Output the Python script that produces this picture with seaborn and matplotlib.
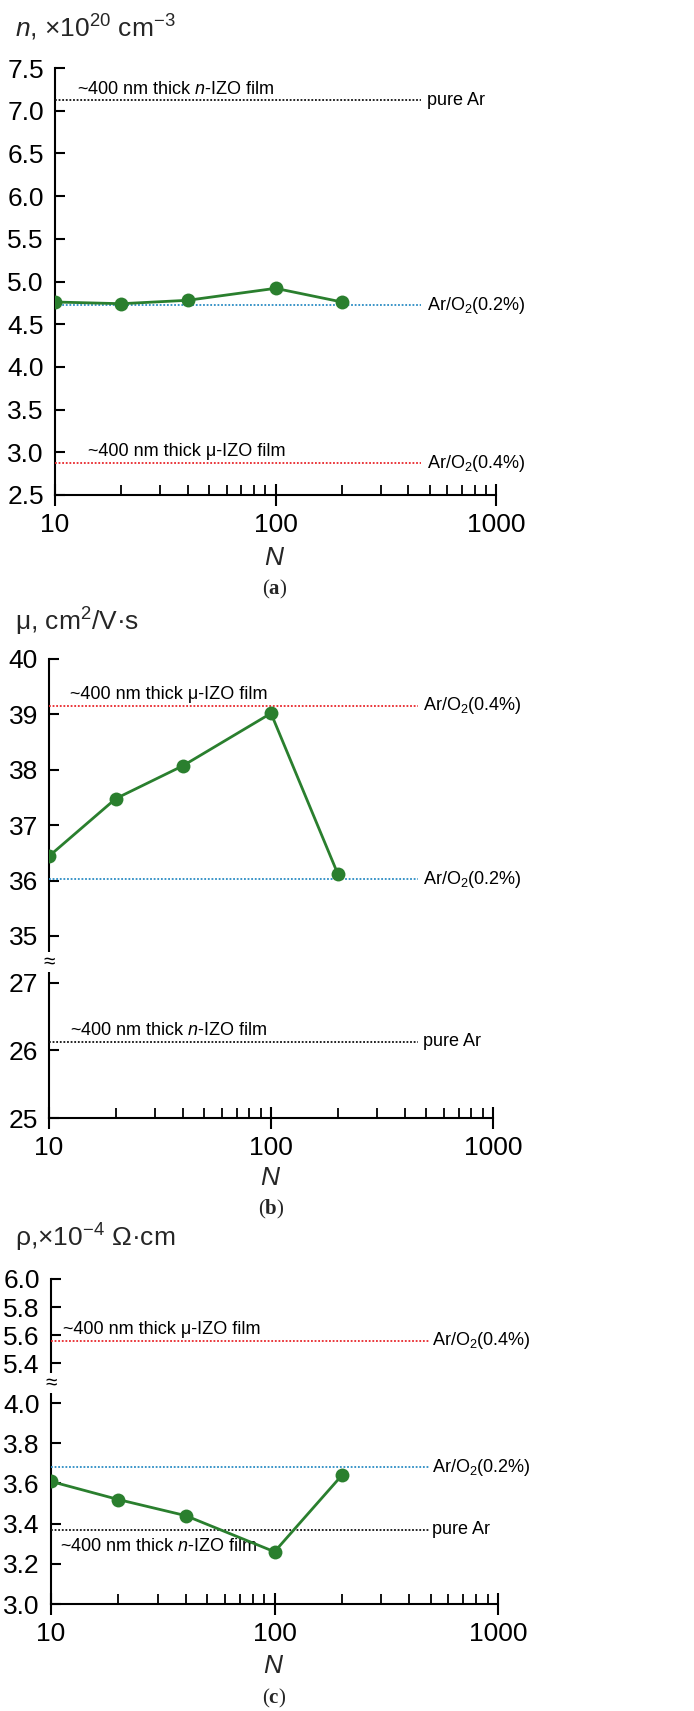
import matplotlib
matplotlib.use("Agg")
import matplotlib.pyplot as plt
from matplotlib import font_manager
import matplotlib.transforms as mtransforms
from matplotlib.ticker import FixedLocator, FormatStrFormatter, LogLocator, NullFormatter
import pandas as pd
import seaborn as sns

# data
layers = [10, 20, 40, 100, 200]
n_conc = [4.76, 4.74, 4.78, 4.92, 4.76]          # x1e20 cm^-3
mobility = [36.44, 37.48, 38.07, 39.02, 36.12]   # cm2/V.s
resistivity = [3.61, 3.52, 3.44, 3.26, 3.64]     # x1e-4 Ohm.cm

# ~400 nm thick reference films
ref_labels = ["pure Ar", "Ar/O$_2$(0.2%)", "Ar/O$_2$(0.4%)"]
ref_colors = ["#111111", "#2b8cc4", "#e8262b"]
n_ref = [7.12, 4.72, 2.87]
mu_ref = [26.13, 36.02, 39.16]
rho_ref = [3.37, 3.68, 5.56]

sns.set_theme(style="ticks")


def have_font(name):
    try:
        font_manager.findfont(name, fallback_to_default=False)
        return True
    except Exception:
        return False


FAM = "Liberation Sans Narrow" if have_font("Liberation Sans Narrow") else "Liberation Sans"
plt.rcParams["font.family"] = [FAM, "DejaVu Sans"]
plt.rcParams["mathtext.fontset"] = "custom"
plt.rcParams["mathtext.rm"] = FAM
plt.rcParams["mathtext.it"] = FAM + ":italic"
plt.rcParams["mathtext.bf"] = "Liberation Serif:bold"
plt.rcParams["mathtext.default"] = "regular"

W, H = 694, 1711
GREEN = "#2a7f2e"
TICK_FS = 19
NOTE_FS = 13

fig = plt.figure(figsize=(W / 100, H / 100), dpi=100)


def rect(left, top, right, bottom):
    return [left / W, 1 - bottom / H, (right - left) / W, (bottom - top) / H]


def style_axis(ax, ylim, yticks, fmt, bottom):
    ax.set_xscale("log")
    ax.set_xlim(10, 1000)
    ax.set_ylim(*ylim)
    ax.set_facecolor("none")
    for s in ["top", "right"]:
        ax.spines[s].set_visible(False)
    ax.spines["left"].set_linewidth(1.5)
    ax.spines["left"].set_color("black")
    ax.yaxis.set_major_locator(FixedLocator(yticks))
    ax.yaxis.set_major_formatter(FormatStrFormatter(fmt))
    ax.tick_params(axis="y", direction="in", length=7, width=1.5, pad=8,
                   labelsize=TICK_FS, colors="black")
    ax.set_xlabel("")
    ax.set_ylabel("")
    if bottom:
        ax.spines["bottom"].set_linewidth(1.5)
        ax.spines["bottom"].set_color("black")
        ax.xaxis.set_major_locator(LogLocator(base=10, numticks=5))
        ax.xaxis.set_minor_locator(LogLocator(base=10, subs=range(2, 10), numticks=20))
        ax.xaxis.set_minor_formatter(NullFormatter())
        ax.xaxis.set_major_formatter(FormatStrFormatter("%d"))
        ax.tick_params(axis="x", which="major", direction="inout", length=16,
                       width=1.5, pad=5, labelsize=TICK_FS, colors="black")
        ax.tick_params(axis="x", which="minor", direction="in", length=7,
                       width=1.3, colors="black")
    else:
        ax.spines["bottom"].set_visible(False)
        ax.tick_params(axis="x", which="both", bottom=False, labelbottom=False)


def draw_panel(axes, values, refs, line_end, label_x, notes):
    df = pd.DataFrame({"N": layers, "v": values})
    for ax in axes:
        sns.lineplot(data=df, x="N", y="v", ax=ax, color=GREEN, linewidth=2.0,
                     marker="o", markersize=10, markeredgewidth=0, zorder=5)
        ax.set_xlabel("")
        ax.set_ylabel("")
    for i, y in enumerate(refs):
        ax = next(a for a in axes if a.get_ylim()[0] <= y <= a.get_ylim()[1])
        ax.axhline(y, xmin=0, xmax=line_end, color=ref_colors[i],
                   linestyle=(0, (1, 1)), linewidth=1.3, zorder=3)
        tr = mtransforms.blended_transform_factory(ax.transAxes, ax.transData)
        ax.text(label_x, y, ref_labels[i], transform=tr, ha="left", va="center",
                fontsize=NOTE_FS, color="black")
        for idx, txt, xf, above in notes:
            if idx == i:
                ax.annotate(txt, xy=(xf, y), xycoords=tr,
                            xytext=(0, 5 if above else -6), textcoords="offset points",
                            ha="left", va="baseline" if above else "top",
                            fontsize=NOTE_FS, color="black")


def break_mark(x_px, y_px):
    fig.text(x_px / W, 1 - y_px / H, "≈", ha="center", va="center",
             fontsize=15, color="black", zorder=10,
             bbox=dict(facecolor="white", edgecolor="none", pad=0.3))


N_TXT = "~400 nm thick $\\mathit{n}$-IZO film"
MU_TXT = "~400 nm thick μ-IZO film"

# (a) carrier concentration
ax_a = fig.add_axes(rect(55, 68, 496, 495))
style_axis(ax_a, (2.5, 7.5), [2.5, 3.0, 3.5, 4.0, 4.5, 5.0, 5.5, 6.0, 6.5, 7.0, 7.5], "%.1f", True)
draw_panel([ax_a], n_conc, n_ref, 0.831, 0.843,
           [(0, N_TXT, 0.05, True), (2, MU_TXT, 0.075, True)])
fig.text(15 / W, 1 - 28 / H, "$\\mathit{n}$, ×10$^{20}$ cm$^{-3}$", ha="left", va="center", fontsize=19)
fig.text(275 / W, 1 - 558 / H, "$\\mathit{N}$", ha="center", va="center", fontsize=19)
fig.text(275 / W, 1 - 589 / H, "($\\mathbf{a}$)", ha="center", va="center", fontsize=15,
         family="Liberation Serif")

# (b) mobility, broken axis
ax_b1 = fig.add_axes(rect(49, 659, 493, 962))
ax_b2 = fig.add_axes(rect(49, 962, 493, 1118))
style_axis(ax_b1, (34.53, 40), [35, 36, 37, 38, 39, 40], "%d", False)
style_axis(ax_b2, (25, 27.31), [25, 26, 27], "%d", True)
draw_panel([ax_b1, ax_b2], mobility, mu_ref, 0.831, 0.842,
           [(2, MU_TXT, 0.047, True), (0, N_TXT, 0.047, True)])
break_mark(49, 962)
fig.text(15 / W, 1 - 622 / H, "μ, cm$^{2}$/V·s", ha="left", va="center", fontsize=19)
fig.text(271 / W, 1 - 1178 / H, "$\\mathit{N}$", ha="center", va="center", fontsize=19)
fig.text(271 / W, 1 - 1209 / H, "($\\mathbf{b}$)", ha="center", va="center", fontsize=15,
         family="Liberation Serif")

# (c) resistivity, broken axis
ax_c1 = fig.add_axes(rect(51, 1279, 498, 1383))
ax_c2 = fig.add_axes(rect(51, 1383, 498, 1604))
style_axis(ax_c1, (5.26, 6.0), [5.4, 5.6, 5.8, 6.0], "%.1f", False)
style_axis(ax_c2, (3.0, 4.1), [3.0, 3.2, 3.4, 3.6, 3.8, 4.0], "%.1f", True)
draw_panel([ax_c1, ax_c2], resistivity, rho_ref, 0.848, 0.852,
           [(2, MU_TXT, 0.027, True), (0, N_TXT, 0.02, False)])
break_mark(51, 1383)
fig.text(15 / W, 1 - 1238 / H, "ρ,×10$^{-4}$ Ω·cm", ha="left", va="center", fontsize=19)
fig.text(274 / W, 1 - 1666 / H, "$\\mathit{N}$", ha="center", va="center", fontsize=19)
fig.text(274 / W, 1 - 1698 / H, "($\\mathbf{c}$)", ha="center", va="center", fontsize=15,
         family="Liberation Serif")

fig.savefig("out.png", dpi=100, facecolor="white")
plt.close(fig)
